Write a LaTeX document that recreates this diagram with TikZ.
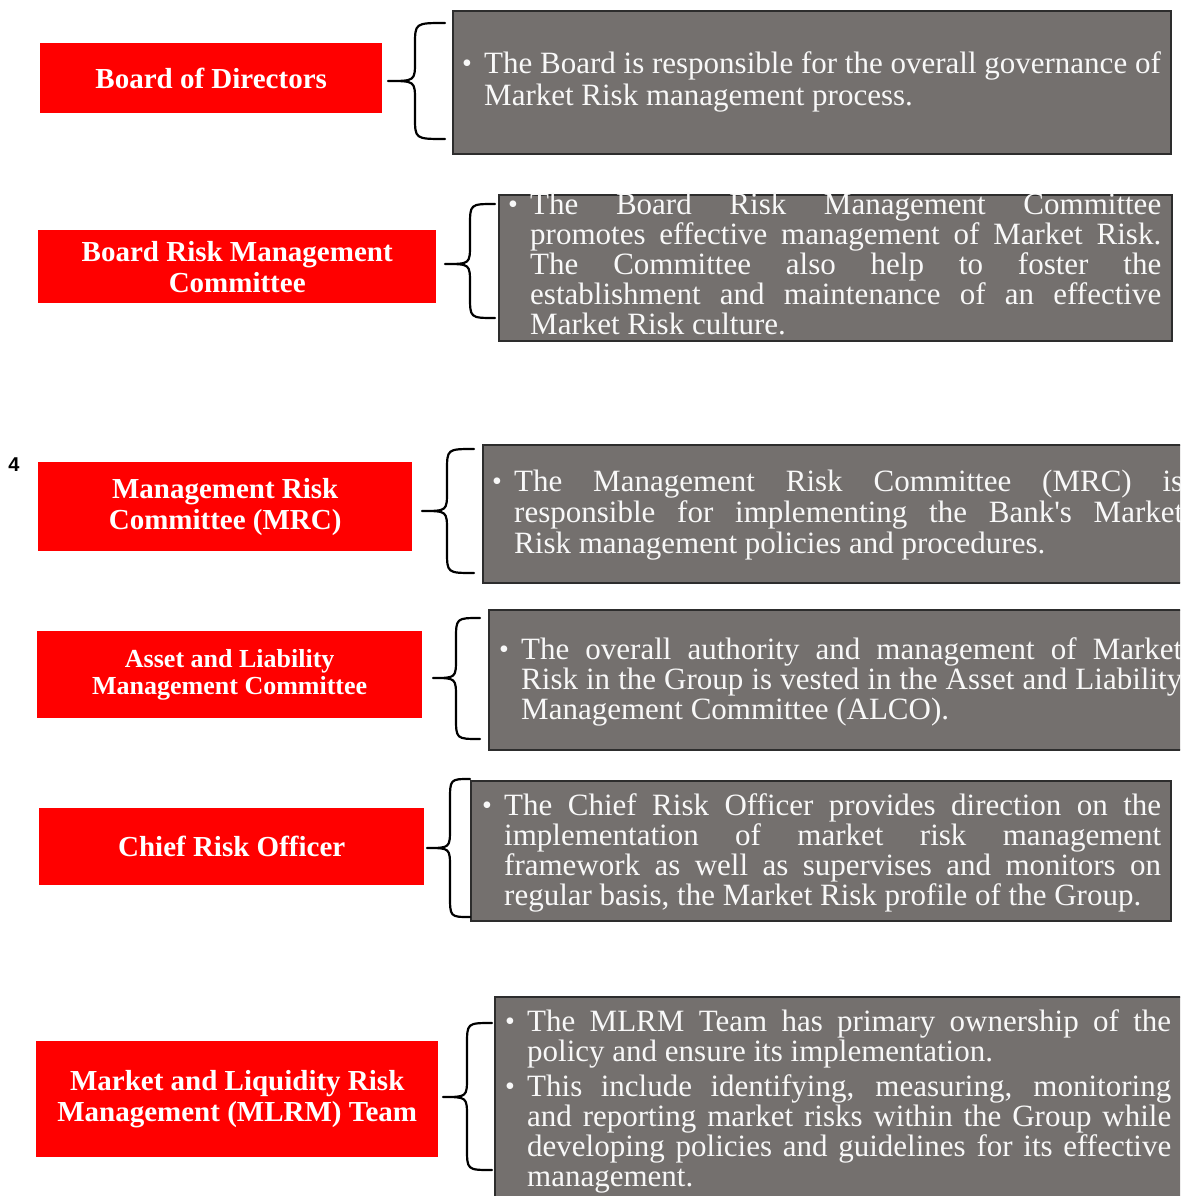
\documentclass[tikz,border=0pt]{standalone}
\usepackage{fontspec}
\setmainfont{Liberation Serif}
\setsansfont{Liberation Sans}
\newfontfamily\plainserif{Liberation Serif}[Ligatures=TeXOff]
\definecolor{boxred}{RGB}{255,0,0}
\definecolor{boxgray}{RGB}{116,112,110}
\definecolor{boxedge}{RGB}{45,45,45}
\definecolor{paper}{RGB}{248,248,248}
\newlength\hangw \setlength\hangw{22pt}
\newcommand\bul{\makebox[\hangw][l]{\raisebox{1pt}{\fontsize{28}{28}\selectfont\textbullet}}}
\newcommand\tallrule{\rule{0pt}{26pt}}
\newcommand\jfirst[2]{\tallrule\bul\makebox[#1][s]{#2}}
\newcommand\jbul[2]{\bul\makebox[#1][s]{#2}}
\newcommand\jline[2]{\hspace*{\hangw}\makebox[#1][s]{#2}}
\newcommand\rline[1]{\hspace*{\hangw}#1}
\newcommand\cbrace[6]{%
  \draw[bracestyle] (#3,#4) .. controls (#2,#4) .. (#2,#4+22) -- (#2,#5-20)
    .. controls (#2,#5) .. (#1,#5) .. controls (#2,#5) .. (#2,#5+20)
    -- (#2,#6-22) .. controls (#2,#6) .. (#3,#6);}
\begin{document}
\begin{tikzpicture}[x=1pt,y=-1pt,
  redbox/.style={fill=boxred, draw=none, inner sep=0pt, align=center,
    text=white, font=\fontsize{29}{31}\selectfont\bfseries, anchor=north west},
  graybox/.style={fill=boxgray, draw=boxedge, line width=2pt, inner sep=0pt, anchor=north west},
  gtext/.style={anchor=north west, inner sep=0pt, align=left, text=paper,
    font=\fontsize{31}{30}\selectfont},
  bracestyle/.style={draw=black, line width=2.2pt, line cap=round, line join=round}]
\useasboundingbox (0,0) rectangle (1180,1196);
\clip (0,0) rectangle (1180,1196);
\fill[white] (0,0) rectangle (1180,1196);

% row 1
\node[redbox, minimum width=342pt, minimum height=70pt] (r1) at (40,43) {Board of Directors};
\node[graybox, minimum width=718pt, minimum height=143pt] (g1) at (452,10) {};
\cbrace{388}{415}{445}{23}{81}{139}
\node[gtext, font=\fontsize{31}{32}\selectfont] (t1) at (462,47) {\tallrule\bul The Board is responsible for the overall governance of\\
  \rline{Market Risk management process.}};

% row 2
\node[redbox, minimum width=398pt, minimum height=73pt] (r2) at (38,230) {Board Risk Management\\Committee};
\node[graybox, minimum width=673pt, minimum height=146pt] (g2) at (498,194) {};
\cbrace{445}{470}{495}{204}{264}{318}
\node[gtext] (t2) at (508,188) {\jfirst{631pt}{The Board Risk Management Committee}\\
  \jline{631pt}{promotes effective management of Market Risk.}\\
  \jline{631pt}{The Committee also help to foster the}\\
  \jline{631pt}{establishment and maintenance of an effective}\\
  \rline{Market Risk culture.}};

% label
\node[font=\sffamily\bfseries\fontsize{20}{20}\selectfont, inner sep=0pt] (n4) at (14,465) {4};

% row 3
\node[redbox, minimum width=374pt, minimum height=89pt] (r3) at (38,462) {Management Risk\\Committee (MRC)};
\node[graybox, minimum width=720pt, minimum height=138pt] (g3) at (482,444) {};
\cbrace{422}{447}{474}{449}{511}{573}
\node[gtext, font=\fontsize{31}{31}\selectfont] (t3) at (492,465) {\jfirst{669pt}{The Management Risk Committee (MRC) is}\\
  \jline{669pt}{responsible for implementing the Bank{\plainserif'}s Market}\\
  \rline{Risk management policies and procedures.}};

% row 4
\node[redbox, font=\fontsize{26}{27}\selectfont\bfseries, minimum width=385pt, minimum height=87pt] (r4) at (37,631) {Asset and Liability\\Management Committee};
\node[graybox, minimum width=720pt, minimum height=140pt] (g4) at (488,609) {};
\cbrace{433}{456}{480}{618}{678}{739}
\node[gtext] (t4) at (499,633) {\jfirst{661pt}{The overall authority and management of Market}\\
  \jline{661pt}{Risk in the Group is vested in the Asset and Liability}\\
  \rline{Management Committee (ALCO).}};

% row 5
\node[redbox, minimum width=385pt, minimum height=77pt] (r5) at (39,808) {Chief Risk Officer};
\node[graybox, minimum width=700pt, minimum height=140pt] (g5) at (470,780) {};
\cbrace{427}{450}{470}{779}{848}{917}
\node[gtext] (t5) at (482,789) {\jfirst{657pt}{The Chief Risk Officer provides direction on the}\\
  \jline{657pt}{implementation of market risk management}\\
  \jline{657pt}{framework as well as supervises and monitors on}\\
  \rline{regular basis, the Market Risk profile of the Group.}};

% row 6
\node[redbox, minimum width=402pt, minimum height=116pt] (r6) at (36,1041) {Market and Liquidity Risk\\Management (MLRM) Team};
\node[graybox, minimum width=710pt, minimum height=220pt] (g6) at (494,996) {};
\cbrace{443}{467}{492}{1023}{1097}{1170}
\node[gtext] (t6) at (505,1005) {\jfirst{644pt}{The MLRM Team has primary ownership of the}\\
  \rline{policy and ensure its implementation.}\\[5pt]
  \jbul{644pt}{This include identifying, measuring, monitoring}\\
  \jline{644pt}{and reporting market risks within the Group while}\\
  \jline{644pt}{developing policies and guidelines for its effective}\\
  \rline{management.}};
\end{tikzpicture}
\end{document}
